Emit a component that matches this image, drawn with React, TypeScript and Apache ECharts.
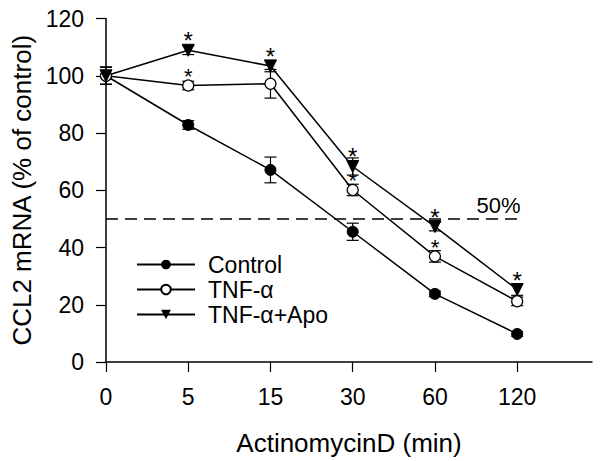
import React, { useEffect, useRef } from "react";
import * as echarts from "echarts";

const categories = ["0", "5", "15", "30", "60", "120"];
const controlValues = [100, 82.8, 67.1, 45.5, 23.8, 9.8];
const controlErr = [3, 1.5, 4.5, 3, 1, 0.8];
const tnfValues = [100, 96.6, 97.2, 60.1, 36.9, 21.2];
const tnfErr = [3, 1.5, 5, 2, 2, 1.5];
const apoValues = [100, 108.9, 103.4, 68.3, 47.3, 25.3];
const apoErr = [3, 1.5, 2, 3, 1.5, 2];
const tnfSig = [false, true, false, true, true, false];
const apoSig = [false, true, true, true, true, true];
const yTicks = [0, 20, 40, 60, 80, 100, 120];
const xTicks = [0, 1, 2, 3, 4, 5];
const thresholdValue = 50;

const FONT = "Liberation Sans, Arial, sans-serif";

function toData(vals: number[], sig: boolean[] | null, starSize = 24) {
  return vals.map((v, i) => {
    const item: any = { value: [i, v] };
    if (sig && sig[i]) {
      item.label = {
        show: true,
        formatter: "*",
        position: "top",
        distance: -4,
        fontSize: starSize,
        lineHeight: 14,
        color: "#000",
        fontFamily: FONT,
      };
    }
    return item;
  });
}

function errSeries(vals: number[], errs: number[]) {
  return {
    type: "custom",
    silent: true,
    z: 1,
    data: vals.map((v, i) => [i, v - errs[i], v + errs[i]]),
    renderItem: (params: any, api: any) => {
      const lo = api.coord([api.value(0), api.value(1)]);
      const hi = api.coord([api.value(0), api.value(2)]);
      const w = 6;
      const st = { stroke: "#000", lineWidth: 1.2 };
      return {
        type: "group",
        children: [
          { type: "line", shape: { x1: lo[0], y1: lo[1], x2: hi[0], y2: hi[1] }, style: st },
          { type: "line", shape: { x1: lo[0] - w, y1: lo[1], x2: lo[0] + w, y2: lo[1] }, style: st },
          { type: "line", shape: { x1: hi[0] - w, y1: hi[1], x2: hi[0] + w, y2: hi[1] }, style: st },
        ],
      };
    },
  };
}

export default function App() {
  const ref = useRef<HTMLDivElement>(null);
  useEffect(() => {
    if (!ref.current) return;
    const chart = echarts.init(ref.current, null, { renderer: "svg" });
    const lineStyle = { color: "#000", width: 1.5 };
    chart.setOption({
      animation: false,
      backgroundColor: "#fff",
      textStyle: { fontFamily: FONT, color: "#000" },
      grid: { left: 106, right: 8, top: 18.5, bottom: 98.5 },
      legend: {
        orient: "vertical",
        left: 131,
        top: 248,
        itemWidth: 58,
        itemHeight: 12,
        itemGap: 2,
        textStyle: { fontSize: 23, color: "#000", fontFamily: FONT, padding: [0, 0, 0, 8] },
        data: ["Control", "TNF-α", "TNF-α+Apo"],
      },
      xAxis: {
        type: "value",
        min: 0,
        max: 5.91,
        interval: 1,
        name: "ActinomycinD (min)",
        nameLocation: "middle",
        nameGap: 68,
        nameTextStyle: { fontSize: 26, color: "#000", fontFamily: FONT },
        splitLine: { show: false },
        axisLine: { lineStyle: { color: "#000", width: 1.5 } },
        axisTick: {
          show: true,
          length: 10,
          lineStyle: { color: "#000", width: 1.2 },
          customValues: xTicks,
        },
        axisLabel: {
          fontSize: 23,
          color: "#000",
          margin: 23,
          fontFamily: FONT,
          customValues: xTicks,
          formatter: (v: number) => categories[Math.round(v)] ?? "",
        },
      },
      yAxis: {
        type: "value",
        min: 0,
        max: 120,
        interval: 20,
        name: "CCL2 mRNA (% of control)",
        nameLocation: "middle",
        nameGap: 69,
        nameTextStyle: { fontSize: 26, color: "#000", fontFamily: FONT },
        splitLine: { show: false },
        axisLine: { show: true, lineStyle: { color: "#000", width: 1.5 } },
        axisTick: { show: true, length: 10, lineStyle: { color: "#000", width: 1.2 }, customValues: yTicks },
        axisLabel: { fontSize: 23, color: "#000", margin: 22, fontFamily: FONT, customValues: yTicks },
      },
      series: [
        errSeries(controlValues, controlErr),
        errSeries(tnfValues, tnfErr),
        errSeries(apoValues, apoErr),
        {
          name: "Control",
          type: "line",
          data: toData(controlValues, null),
          symbol: "circle",
          symbolSize: 11,
          itemStyle: { color: "#000", borderColor: "#000" },
          lineStyle,
          z: 3,
          markLine: {
            silent: true,
            symbol: "none",
            lineStyle: { color: "#000", type: [12, 7], width: 1.5 },
            label: {
              show: true,
              position: "insideEndTop",
              formatter: "50%",
              fontSize: 22,
              color: "#000",
              fontFamily: FONT,
              distance: [0, 2],
            },
            data: [[{ coord: [0, thresholdValue] }, { coord: [5.04, thresholdValue] }]],
          },
        },
        {
          name: "TNF-α",
          type: "line",
          data: toData(tnfValues, tnfSig, 22),
          symbol: "circle",
          symbolSize: 11,
          itemStyle: { color: "#fff", borderColor: "#000", borderWidth: 1.2 },
          lineStyle,
          z: 3,
        },
        {
          name: "TNF-α+Apo",
          type: "line",
          data: toData(apoValues, apoSig, 24),
          symbol: "triangle",
          symbolRotate: 180,
          symbolSize: 12,
          itemStyle: { color: "#000", borderColor: "#000" },
          lineStyle,
          z: 3,
        },
      ],
    });
    return () => chart.dispose();
  }, []);
  return (
    <div
      ref={ref}
      style={{ position: "absolute", left: 0, top: 0, width: 600, height: 461 }}
    />
  );
}
